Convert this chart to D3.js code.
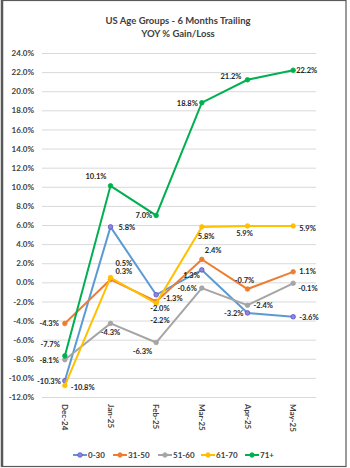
<!DOCTYPE html>
<html>
<head>
<meta charset="utf-8">
<script src="https://cdn.jsdelivr.net/npm/d3@7"></script>
<style>
  body { margin: 0; background: #fff; }
  text { font-family: Lato, "Open Sans", sans-serif; }
</style>
</head>
<body>
<div id="chart"></div>
<script>
const months = ["Dec-24", "Jan-25", "Feb-25", "Mar-25", "Apr-25", "May-25"];
const yTicks = d3.range(-12, 25, 2);

const group030 = [-10.3, 5.8, -1.3, 1.3, -3.2, -3.6];
const group3150 = [-4.3, 0.3, -2.0, 2.4, -0.7, 1.1];
const group5160 = [-8.1, -4.3, -6.3, -0.6, -2.4, -0.1];
const group6170 = [-10.8, 0.5, -2.2, 5.8, 5.9, 5.9];
const group71 = [-7.7, 10.1, 7.0, 18.8, 21.2, 22.2];

const seriesNames = ["0-30", "31-50", "51-60", "61-70", "71+"];
const seriesValues = [group030, group3150, group5160, group6170, group71];
const seriesColors = ["#5B9BD5", "#ED7D31", "#A5A5A5", "#FFC000", "#00B050"];

// label placement per point: [dx, dy, anchor]
const labelPos = [
    [[-4, 3, "end"], [8, 3, "start"], [7, 6, "start"], [-2, 8, "end"], [-4, 3, "end"], [6, 3, "start"]],
    [[-6, 3, "end"], [5, -5, "start"], [-6, 10, "start"], [3, -6, "start"], [-3, -6, "middle"], [6, 2, "start"]],
    [[-6, 3, "end"], [0, 12, "middle"], [-4, 11, "end"], [-5, 3, "end"], [6, 3, "start"], [5, 8, "start"]],
    [[6, 4, "start"], [5, -12, "start"], [-6, 20, "start"], [-4, 12, "start"], [-3, 10, "middle"], [6, 5, "start"]],
    [[-5, -9, "end"], [-4, -7, "end"], [-4, 3, "end"], [-4, 3, "end"], [-6, -1, "end"], [3, 3, "start"]]
];

const W = 350, H = 468;
const margin = { top: 53, left: 42, right: 34, bottom: 71 };

const svg = d3.select("#chart").append("svg")
    .attr("width", W)
    .attr("height", H);

// frame
svg.append("rect")
    .attr("x", 2).attr("y", 0.5)
    .attr("width", 344).attr("height", 466)
    .attr("fill", "#fff")
    .attr("stroke", "#595959")
    .attr("stroke-width", 1.2);
svg.append("line")
    .attr("x1", 2).attr("x2", 2).attr("y1", 0).attr("y2", 467)
    .attr("stroke", "#595959").attr("stroke-width", 2.5);

// title
svg.append("text")
    .attr("x", 178).attr("y", 24)
    .attr("text-anchor", "middle")
    .attr("font-size", 9.5).attr("font-weight", "bold").attr("fill", "#404040")
    .text("US Age Groups - 6 Months Trailing");
svg.append("text")
    .attr("x", 178).attr("y", 37)
    .attr("text-anchor", "middle")
    .attr("font-size", 9.5).attr("font-weight", "bold").attr("fill", "#404040")
    .text("YOY % Gain/Loss");

const xScale = d3.scaleBand()
    .domain(months)
    .range([margin.left, W - margin.right]);

const yScale = d3.scaleLinear()
    .domain([-12, 24])
    .range([H - margin.bottom, margin.top]);

const xc = i => xScale(months[i]) + xScale.bandwidth() / 2;

// grid + y axis
const yAxisG = svg.append("g")
    .attr("transform", `translate(${margin.left},0)`)
    .call(d3.axisLeft(yScale)
        .tickValues(yTicks)
        .tickSize(-(W - margin.left - margin.right))
        .tickPadding(8)
        .tickFormat(d => d.toFixed(1) + "%"));
yAxisG.select(".domain").remove();
yAxisG.selectAll(".tick line").attr("stroke", "#D9D9D9").attr("stroke-width", 1);
yAxisG.selectAll(".tick text")
    .attr("font-size", 8).attr("font-weight", "bold").attr("fill", "#404040")
    .attr("font-family", "Lato, sans-serif");

// x axis labels (rotated)
const xAxisG = svg.append("g")
    .attr("transform", `translate(0,${H - margin.bottom})`)
    .call(d3.axisBottom(xScale).tickSize(0).tickPadding(0));
xAxisG.select(".domain").remove();
xAxisG.selectAll(".tick text")
    .attr("font-size", 8).attr("font-weight", "bold").attr("fill", "#404040")
    .attr("font-family", "Lato, sans-serif")
    .attr("text-anchor", "start")
    .attr("transform", "translate(-3,7) rotate(90)")
    .attr("dy", "0")
    .attr("x", 0).attr("y", 0);

const line = d3.line()
    .x((d, i) => xc(i))
    .y(d => yScale(d));

seriesValues.forEach((vals, s) => {
    const g = svg.append("g");
    g.append("path")
        .attr("d", line(vals))
        .attr("fill", "none")
        .attr("stroke", seriesColors[s])
        .attr("stroke-width", 2);
    g.selectAll("circle")
        .data(vals)
        .enter()
        .append("circle")
        .attr("cx", (d, i) => xc(i))
        .attr("cy", d => yScale(d))
        .attr("r", 2.3)
        .attr("fill", s === 0 ? "#8E86D8" : seriesColors[s])
        .attr("stroke", s === 0 ? "#5A4FCF" : seriesColors[s])
        .attr("stroke-width", 0.8);
});

// data labels
seriesValues.forEach((vals, s) => {
    svg.append("g").selectAll("text")
        .data(vals)
        .enter()
        .append("text")
        .attr("x", (d, i) => xc(i) + labelPos[s][i][0])
        .attr("y", (d, i) => yScale(d) + labelPos[s][i][1])
        .attr("text-anchor", (d, i) => labelPos[s][i][2])
        .attr("font-size", 7.5)
        .attr("font-weight", "bold")
        .attr("fill", "#262626")
        .text(d => d.toFixed(1) + "%");
});

// legend
const legendX = [73, 113, 158, 201, 245];
const legend = svg.append("g").attr("transform", "translate(0,455)");
seriesNames.forEach((name, s) => {
    const lg = legend.append("g").attr("transform", `translate(${legendX[s]},0)`);
    lg.append("line")
        .attr("x1", 0).attr("x2", 14)
        .attr("stroke", seriesColors[s]).attr("stroke-width", 2);
    lg.append("circle")
        .attr("cx", 7).attr("r", 2.3)
        .attr("fill", s === 0 ? "#8E86D8" : seriesColors[s])
        .attr("stroke", s === 0 ? "#5A4FCF" : seriesColors[s])
        .attr("stroke-width", 0.8);
    lg.append("text")
        .attr("x", 15).attr("y", 3)
        .attr("font-size", 8).attr("font-weight", "bold").attr("fill", "#404040")
        .text(name);
});
</script>
</body>
</html>
